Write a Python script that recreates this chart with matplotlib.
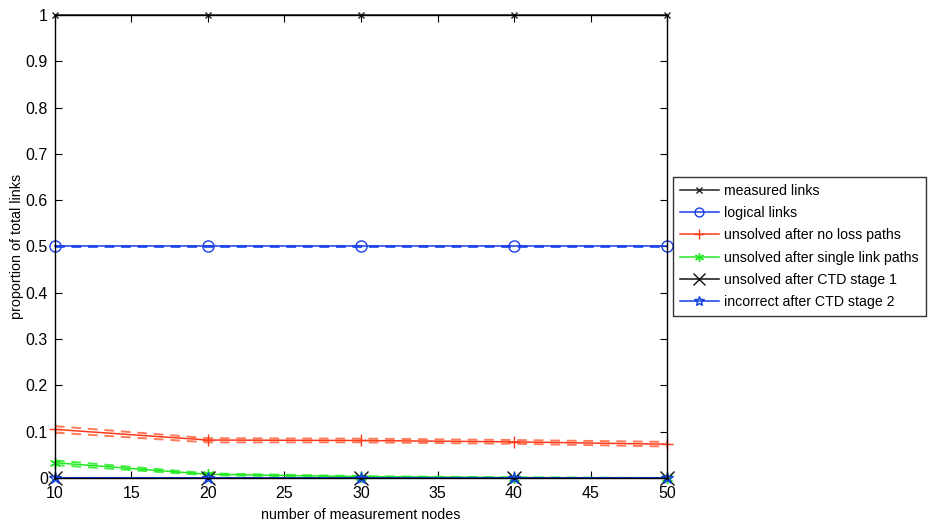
import numpy as np
import matplotlib.pyplot as plt

plt.rcParams['font.family'] = ['Liberation Sans', 'DejaVu Sans']

nodes = [10, 20, 30, 40, 50]

measured = [1.0, 1.0, 1.0, 1.0, 1.0]
measured_lo = [0.999, 0.999, 0.999, 0.999, 0.999]
measured_hi = [1.0, 1.0, 1.0, 1.0, 1.0]

logical = [0.5, 0.5, 0.5, 0.5, 0.5]
logical_lo = [0.499, 0.499, 0.499, 0.499, 0.499]
logical_hi = [0.501, 0.501, 0.501, 0.501, 0.501]

no_loss = [0.105, 0.082, 0.081, 0.078, 0.073]
no_loss_lo = [0.098, 0.077, 0.077, 0.074, 0.068]
no_loss_hi = [0.112, 0.086, 0.085, 0.082, 0.078]

single_link = [0.033, 0.008, 0.003, 0.001, 0.0]
single_link_lo = [0.028, 0.006, 0.002, 0.0005, 0.0]
single_link_hi = [0.038, 0.010, 0.004, 0.0015, 0.0]

ctd1 = [0.0, 0.0, 0.0, 0.0, 0.0]
ctd2 = [0.0, 0.0, 0.0, 0.0, 0.0]

series = [
    ("measured links", measured, measured_lo, measured_hi, '#202020', '#909090', 'x', 5),
    ("logical links", logical, logical_lo, logical_hi, '#1a3fe8', '#3a5ff0', 'o', 8),
    ("unsolved after no loss paths", no_loss, no_loss_lo, no_loss_hi, '#ff3a1a', '#ff7a5a', '+', 9),
    ("unsolved after single link paths", single_link, single_link_lo, single_link_hi, '#22e822', '#44ee44', (6, 2, 0), 8),
    ("unsolved after CTD stage 1", ctd1, ctd1, ctd1, '#101010', '#101010', 'x', 10),
    ("incorrect after CTD stage 2", ctd2, ctd2, ctd2, '#1040e0', '#1040e0', '*', 9),
]

fig = plt.figure(figsize=(9.31, 5.28), dpi=100)
ax = fig.add_axes([0.059, 0.0947, 0.6575, 0.8769])

handles = []
for label, y, lo, hi, col, dcol, mk, ms in series:
    # confidence bounds as dashed lines
    ax.plot(nodes, lo, '--', color=dcol, lw=1.4, dashes=(5, 3.5))
    ax.plot(nodes, hi, '--', color=dcol, lw=1.4, dashes=(5, 3.5))
    h, = ax.plot(nodes, y, '-', color=col, lw=1.1, marker=mk, ms=ms,
                 mfc='none' if mk in ('o', '*') else col, mec=col, mew=1.0,
                 label=label, clip_on=False)
    handles.append(h)

ax.set_xlim(10, 50)
ax.set_ylim(0, 1)
ax.set_xticks(np.arange(10, 51, 5))
ax.set_yticks(np.arange(0, 1.01, 0.1))
ax.set_yticklabels(['0', '0.1', '0.2', '0.3', '0.4', '0.5', '0.6', '0.7', '0.8', '0.9', '1'])
ax.tick_params(direction='in', top=True, right=True, length=5, width=0.8,
               labelsize=11.5)
ax.tick_params(axis='x', pad=6)
ax.tick_params(axis='y', pad=5)
for s in ax.spines.values():
    s.set_linewidth(1.0)

ax.set_xlabel("number of measurement nodes", fontsize=10.3, labelpad=5)
ax.set_ylabel("proportion of total links", fontsize=10.3, labelpad=1)

leg = ax.legend(handles=handles, loc='center left', bbox_to_anchor=(1.009, 0.5),
                fontsize=10.2, frameon=True, fancybox=False, edgecolor='black',
                handlelength=2.8, handletextpad=0.35, borderpad=0.5,
                labelspacing=0.58, markerscale=0.8, borderaxespad=0)
leg.get_frame().set_linewidth(1.0)

fig.savefig("out.png", dpi=100)
